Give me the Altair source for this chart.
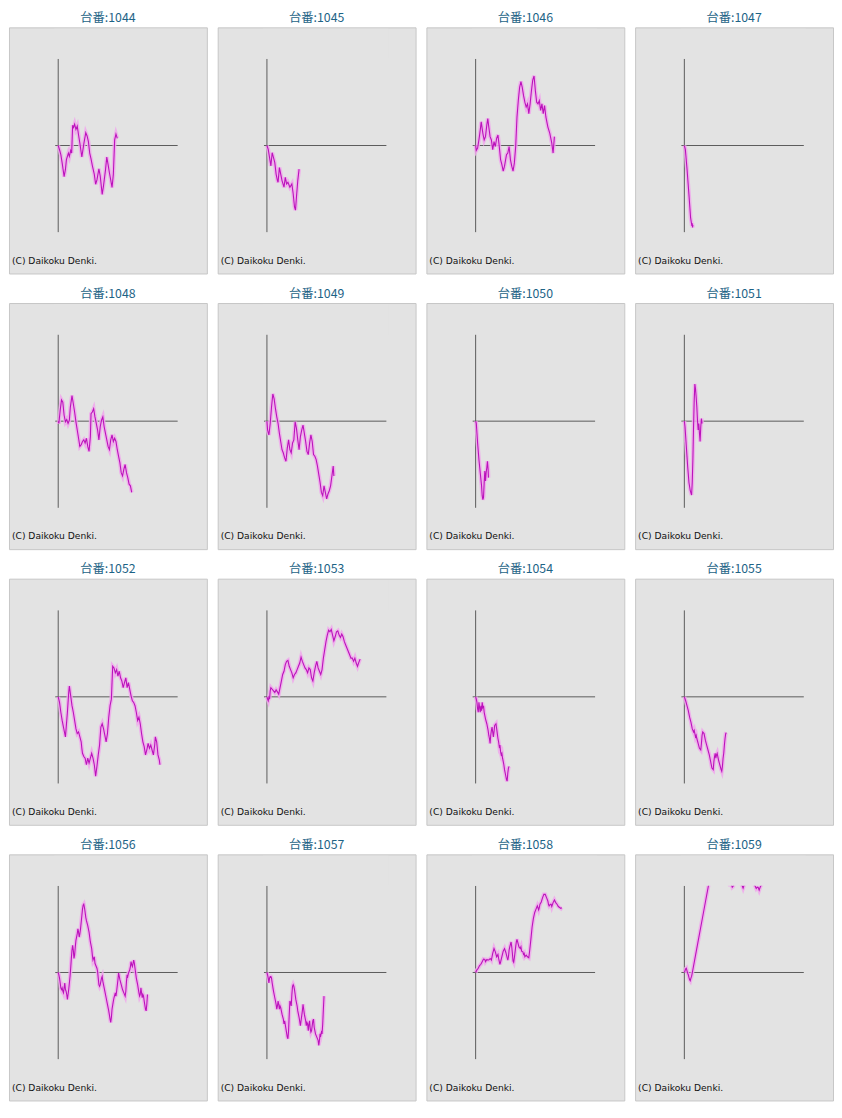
import altair as alt
import pandas as pd

# (games, coin difference)
S1044 = [(0,0),(40,-130),(80,-280),(120,-530),(180,-950),(220,-730),(250,-430),(280,-330),(310,-230),(340,-330),(380,-150),(410,-230),(440,620),(470,550),(500,650),(540,490),(580,590),(620,320),(660,70),(720,-350),(780,50),(840,390),(880,290),(920,120),(960,-230),(1000,-410),(1040,-610),(1100,-880),(1140,-1180),(1180,-1050),(1240,-710),(1280,-930),(1340,-1490),(1380,-1230),(1440,-750),(1480,-350),(1520,-580),(1560,-830),(1600,-1050),(1640,-1280),(1680,-880),(1720,170),(1760,350),(1800,220)]
S1045 = [(0,0),(40,-120),(80,-370),(120,-620),(160,-220),(200,-370),(240,-520),(280,-870),(320,-1070),(340,-1120),(380,-670),(420,-870),(460,-1070),(520,-1270),(560,-970),(600,-1170),(640,-1120),(700,-1270),(760,-1170),(800,-1470),(840,-1870),(870,-1970),(900,-1570),(940,-1070),(980,-720)]
S1046 = [(0,0),(20,-150),(60,-80),(100,170),(140,470),(170,720),(220,370),(260,170),(300,270),(340,620),(370,820),(400,570),(440,270),(480,170),(520,-130),(560,120),(600,-30),(640,220),(680,320),(720,-30),(760,-430),(800,-580),(840,-780),(880,-630),(940,-280),(980,-230),(1020,-30),(1060,-430),(1100,-630),(1140,-780),(1180,-530),(1220,-30),(1260,870),(1300,1370),(1340,1770),(1380,1950),(1420,1770),(1460,1520),(1500,1320),(1540,1170),(1580,1270),(1620,970),(1660,1270),(1700,1670),(1740,1990),(1780,2120),(1820,1670),(1860,1320),(1900,1270),(1940,1370),(1980,1070),(2020,1270),(2060,970),(2100,1220),(2140,870),(2200,570),(2260,370),(2320,70),(2360,-230),(2400,270)]
S1047 = [(0,0),(30,-120),(80,-700),(140,-1500),(190,-2200),(210,-2330),(230,-2450),(240,-2370),(250,-2500),(260,-2420)]
S1048 = [(0,0),(20,-70),(60,330),(100,650),(140,580),(180,180),(220,-20),(260,50),(300,-70),(340,30),(370,430),(420,780),(460,530),(500,280),(540,-20),(580,-270),(620,-520),(660,-770),(700,-720),(740,-620),(780,-570),(820,-670),(860,-520),(900,-770),(940,-920),(980,-470),(1000,230),(1040,280),(1080,380),(1120,130),(1160,-70),(1200,-270),(1240,-570),(1280,-170),(1320,30),(1360,130),(1400,-170),(1440,-370),(1480,-570),(1520,-770),(1560,-870),(1600,-570),(1640,-420),(1680,-620),(1720,-520),(1760,-620),(1800,-870),(1840,-1070),(1880,-1270),(1920,-1570),(1960,-1670),(2000,-1470),(2040,-1320),(2080,-1570),(2120,-1720),(2160,-1920),(2200,-1970),(2240,-2170)]
S1049 = [(0,0),(20,-270),(60,-420),(100,-70),(140,430),(180,830),(220,680),(260,380),(300,130),(340,-70),(380,-370),(420,-620),(460,-870),(500,-970),(540,-1120),(580,-1220),(620,-820),(660,-570),(700,-870),(740,-970),(780,-670),(820,-570),(860,-20),(900,-220),(940,-570),(980,-870),(1020,-470),(1060,-270),(1100,-120),(1140,-370),(1180,-620),(1220,-920),(1260,-1020),(1300,-670),(1340,-420),(1380,-620),(1420,-1020),(1460,-1070),(1500,-1170),(1540,-1370),(1580,-1620),(1620,-1870),(1660,-2170),(1700,-2270),(1740,-1970),(1780,-2170),(1820,-2370),(1860,-2220),(1900,-2120),(1940,-1970),(1980,-1670),(2020,-1370),(2040,-1670)]
S1050 = [(0,0),(20,-70),(60,-670),(100,-1170),(140,-1570),(180,-1970),(200,-2270),(220,-2390),(240,-2320),(260,-1870),(280,-1520),(300,-1820),(320,-1570),(340,-1420),(360,-1220),(380,-1470),(390,-1720)]
S1051 = [(0,0),(20,-170),(60,-770),(100,-1370),(140,-1870),(180,-2120),(220,-2250),(240,-1870),(260,-1170),(280,-170),(300,630),(320,1130),(340,980),(360,730),(380,430),(400,30),(420,-270),(440,-70),(460,-370),(480,-620),(500,-170),(520,80),(540,-70)]
S1052 = [(0,0),(40,-170),(80,-470),(120,-720),(160,-920),(200,-1120),(220,-1220),(240,-970),(280,-470),(320,130),(340,330),(380,30),(420,-270),(460,-470),(500,-720),(540,-970),(580,-1120),(620,-1070),(660,-1220),(700,-1370),(720,-1570),(740,-1720),(780,-1820),(820,-1870),(860,-2070),(900,-1870),(940,-2020),(980,-1870),(1020,-1720),(1060,-1870),(1100,-2070),(1140,-2420),(1180,-2120),(1220,-1770),(1260,-1470),(1300,-920),(1340,-820),(1380,-970),(1420,-1170),(1460,-1370),(1500,-1120),(1540,-620),(1580,-270),(1620,-70),(1660,930),(1700,880),(1740,730),(1780,830),(1820,630),(1860,780),(1900,580),(1940,480),(1980,280),(2020,430),(2060,580),(2100,280),(2140,430),(2180,230),(2220,30),(2260,-120),(2300,-170),(2340,-270),(2380,-470),(2420,-720),(2460,-620),(2500,-820),(2540,-1120),(2580,-1370),(2620,-1520),(2660,-1770),(2700,-1620),(2740,-1420),(2780,-1570),(2820,-1470),(2860,-1620),(2900,-1770),(2940,-1470),(2960,-1220),(3000,-1370),(3040,-1770),(3080,-1920),(3100,-2070)]
S1053 = [(0,0),(20,-70),(40,-120),(60,-20),(80,-70),(100,180),(120,280),(160,230),(200,180),(240,130),(280,210),(320,150),(360,80),(400,280),(440,480),(480,680),(520,780),(560,980),(600,1080),(640,1110),(680,930),(720,830),(760,730),(800,580),(840,680),(880,730),(920,830),(960,930),(1000,1030),(1040,1210),(1080,1080),(1120,980),(1160,880),(1200,830),(1240,730),(1280,880),(1320,830),(1360,580),(1400,480),(1440,730),(1480,930),(1520,1080),(1560,880),(1600,780),(1640,680),(1680,830),(1720,1180),(1760,1430),(1800,1680),(1840,1880),(1880,2030),(1920,1980),(1960,2050),(2000,1880),(2040,1710),(2080,1830),(2120,1980),(2160,2010),(2200,1880),(2240,1810),(2280,1910),(2320,1830),(2360,1680),(2400,1580),(2440,1480),(2480,1380),(2520,1280),(2560,1180),(2600,1180),(2640,1080),(2680,1180),(2720,1030),(2760,930),(2800,1050),(2840,1150)]
S1054 = [(0,0),(20,-70),(40,-170),(60,-370),(80,-470),(100,-170),(120,-320),(140,-470),(160,-270),(180,-420),(200,-170),(220,-320),(240,-270),(260,-470),(300,-670),(340,-820),(380,-1020),(400,-1170),(420,-1270),(440,-1420),(460,-1170),(480,-1020),(500,-920),(520,-1070),(540,-1220),(560,-1070),(580,-870),(620,-820),(640,-970),(660,-1120),(680,-1270),(700,-1370),(720,-1520),(740,-1470),(760,-1670),(780,-1770),(800,-1720),(820,-1870),(840,-1970),(860,-2070),(880,-2220),(900,-2320),(920,-2420),(940,-2520),(960,-2570),(980,-2320),(1000,-2170),(1020,-2120)]
S1055 = [(0,0),(40,-120),(80,-270),(120,-420),(160,-620),(200,-770),(240,-970),(280,-1070),(300,-1020),(320,-1120),(340,-1220),(360,-1170),(380,-1270),(420,-1420),(460,-1570),(500,-1620),(520,-1420),(540,-1170),(560,-1070),(600,-1120),(640,-1320),(680,-1470),(720,-1620),(760,-1770),(800,-1970),(840,-2170),(880,-2220),(900,-1970),(920,-1820),(940,-1720),(960,-1870),(980,-1770),(1000,-1720),(1020,-1820),(1040,-1920),(1080,-2070),(1120,-2220),(1140,-2270),(1160,-2120),(1180,-1870),(1200,-1720),(1220,-1470),(1240,-1270),(1260,-1120),(1280,-1090)]
S1056 = [(0,0),(20,-70),(40,-170),(60,-320),(80,-470),(100,-520),(120,-470),(140,-570),(160,-620),(180,-470),(200,-320),(220,-520),(240,-570),(260,-670),(280,-820),(300,-670),(320,-520),(340,-320),(360,-120),(380,130),(400,430),(420,680),(440,830),(460,680),(480,430),(500,530),(520,780),(540,980),(560,1080),(580,1180),(600,1330),(620,1230),(640,1080),(660,1180),(680,1330),(700,1530),(720,1730),(740,1930),(760,2050),(780,2080),(800,1980),(820,1830),(840,1680),(860,1580),(900,1430),(940,1230),(980,930),(1020,730),(1040,530),(1060,380),(1080,430),(1100,480),(1120,280),(1140,230),(1180,130),(1200,30),(1220,-170),(1240,-370),(1260,-420),(1280,-370),(1300,-270),(1320,-170),(1340,-120),(1360,-270),(1380,-370),(1420,-570),(1460,-770),(1500,-970),(1540,-1170),(1580,-1420),(1600,-1520),(1620,-1370),(1640,-1120),(1680,-870),(1700,-770),(1740,-620),(1760,-720),(1780,-570),(1820,-220),(1840,-20),(1860,-120),(1880,-220),(1920,-370),(1960,-520),(2000,-620),(2040,-720),(2060,-570),(2080,-270),(2100,-70),(2120,-120),(2140,-20),(2180,80),(2200,180),(2220,330),(2240,230),(2260,180),(2300,380),(2320,280),(2340,130),(2380,-170),(2420,-370),(2460,-620),(2480,-720),(2500,-670),(2520,-470),(2540,-620),(2560,-770),(2580,-670),(2600,-720),(2620,-870),(2660,-1120),(2680,-1170),(2700,-970),(2720,-670)]
S1057 = [(0,0),(20,-70),(40,-170),(60,-320),(80,-170),(100,-120),(120,-120),(140,-170),(160,-320),(200,-570),(240,-770),(280,-970),(300,-1120),(320,-1020),(340,-870),(360,-970),(380,-1120),(400,-1020),(420,-1070),(440,-1170),(460,-1270),(500,-1420),(520,-1570),(540,-1470),(580,-1720),(620,-1970),(640,-2020),(660,-1770),(680,-1270),(700,-870),(720,-920),(740,-1020),(760,-670),(780,-420),(800,-370),(820,-420),(840,-520),(860,-670),(880,-820),(920,-1020),(940,-1170),(980,-1370),(1020,-1620),(1040,-1470),(1080,-1170),(1100,-970),(1120,-1120),(1140,-1270),(1180,-1470),(1200,-1620),(1220,-1520),(1240,-1570),(1260,-1770),(1280,-1570),(1300,-1470),(1320,-1720),(1340,-1820),(1360,-1770),(1380,-1620),(1400,-1470),(1420,-1420),(1440,-1670),(1480,-1870),(1520,-1970),(1560,-2070),(1580,-2220),(1600,-2070),(1620,-1870),(1640,-1920),(1660,-1820),(1680,-1870),(1700,-1570),(1720,-1120),(1740,-720)]
S1058 = [(0,0),(40,80),(80,130),(120,210),(160,250),(200,330),(240,410),(280,400),(300,330),(340,390),(400,380),(440,420),(460,410),(480,380),(500,480),(520,580),(560,730),(600,630),(640,480),(680,550),(700,430),(740,250),(760,320),(800,480),(840,650),(880,730),(920,610),(960,450),(980,380),(1000,480),(1020,680),(1040,780),(1080,930),(1100,780),(1120,580),(1140,350),(1160,310),(1180,450),(1220,780),(1240,930),(1260,1010),(1280,930),(1320,780),(1360,730),(1380,780),(1400,650),(1440,630),(1460,550),(1480,580),(1500,480),(1540,530),(1580,480),(1620,450),(1640,610),(1680,980),(1720,1380),(1760,1650),(1800,1830),(1840,1930),(1880,2030),(1920,1910),(1940,1980),(1960,2080),(2000,2150),(2040,2280),(2080,2380),(2120,2380),(2140,2330),(2160,2280),(2200,2180),(2220,2080),(2240,2030),(2280,2080),(2300,2080),(2320,2010),(2360,2130),(2400,2210),(2440,2130),(2480,2080),(2520,2010),(2560,1980),(2600,1950),(2620,1980)]
S1059 = [(0,0),(20,50),(40,110),(60,130),(80,50),(100,-20),(120,-70),(140,-150),(160,-220),(180,-250),(200,-170),(220,-120),(240,-20),(340,520),(440,1060),(540,1600),(640,2140),(740,2680),(800,2850),(880,3050),(940,2950),(1000,3100),(1060,2950),(1120,3000),(1180,2900),(1240,2850),(1300,2780),(1360,2700),(1400,2760),(1440,2660),(1460,2600),(1480,2620),(1500,2660),(1540,2760),(1600,2900),(1660,2800),(1720,2700),(1760,2650),(1790,2570),(1820,2660),(1880,2800),(1940,2900),(2000,2850),(2060,2780),(2120,2700),(2160,2630),(2190,2560),(2220,2600),(2250,2590),(2280,2510),(2310,2600),(2340,2660),(2360,2700)]

PANELS = [("1044", S1044), ("1045", S1045), ("1046", S1046), ("1047", S1047),
          ("1048", S1048), ("1049", S1049), ("1050", S1050), ("1051", S1051),
          ("1052", S1052), ("1053", S1053), ("1054", S1054), ("1055", S1055),
          ("1056", S1056), ("1057", S1057), ("1058", S1058), ("1059", S1059)]

# scale / frame layout
X_DOM = [-1500, 4530]
Y_DOM = [-3900, 3600]
AX_X0, AX_X1 = -90, 3640
AX_Y = 2640
BG = "#e3e3e3"
W, H = 201, 250

one = alt.Data(values=[{}])


def panel(num, series):
    df = pd.DataFrame(series, columns=["games", "diff"])
    df["i"] = range(len(df))
    xs = alt.Scale(domain=X_DOM, nice=False, zero=False)
    ys = alt.Scale(domain=Y_DOM, nice=False, zero=False)

    vrule = alt.Chart(one).mark_rule(color="#5a5a5a", strokeWidth=1).encode(
        x=alt.XDatum(0, scale=xs, axis=None),
        y=alt.YDatum(-AX_Y, scale=ys, axis=None),
        y2=alt.Y2Datum(AX_Y),
    )
    hrule = alt.Chart(one).mark_rule(color="#5a5a5a", strokeWidth=1).encode(
        x=alt.XDatum(AX_X0, scale=xs, axis=None),
        x2=alt.X2Datum(AX_X1),
        y=alt.YDatum(0, scale=ys, axis=None),
    )
    base = alt.Chart(df).encode(
        x=alt.X("games:Q", scale=xs, axis=None),
        y=alt.Y("diff:Q", scale=ys, axis=None),
        order="i:Q",
    )
    glow = base.mark_line(color="#f0a8ec", strokeWidth=4, opacity=0.85)
    line = base.mark_line(color="#bb12bb", strokeWidth=1.1)
    mask = alt.Chart(one).mark_rect(color=BG).encode(
        x=alt.XDatum(AX_X0 - 30, scale=xs, axis=None),
        x2=alt.X2Datum(AX_X1 + 60),
        y=alt.YDatum(AX_Y, scale=ys, axis=None),
        y2=alt.Y2Datum(Y_DOM[1] - 40),
    )
    text = alt.Chart(one).mark_text(
        text="(C) Daikoku Denki.", align="left", baseline="middle",
        font="DejaVu Sans", fontSize=9.3, color="#111111",
    ).encode(x=alt.value(3), y=alt.value(237))

    return alt.layer(vrule, hrule, glow, line, mask, text).properties(
        width=W, height=H,
        title=alt.TitleParams(
            f"台番:{num}", fontSize=12.5, font="Noto Sans CJK JP",
            fontWeight="normal", color="#1d6386", offset=3, anchor="middle",
        ),
    )


chart = alt.concat(
    *[panel(n, s) for n, s in PANELS],
    columns=4,
    spacing={"row": 13, "column": 9},
).properties(
    padding={"left": 0, "top": -5, "right": 0, "bottom": 0},
    background="white",
).configure_view(
    fill=BG, stroke="#c6c6c6", strokeWidth=1
)

chart.save("out.html", embed_options={"renderer": "svg", "actions": False})
